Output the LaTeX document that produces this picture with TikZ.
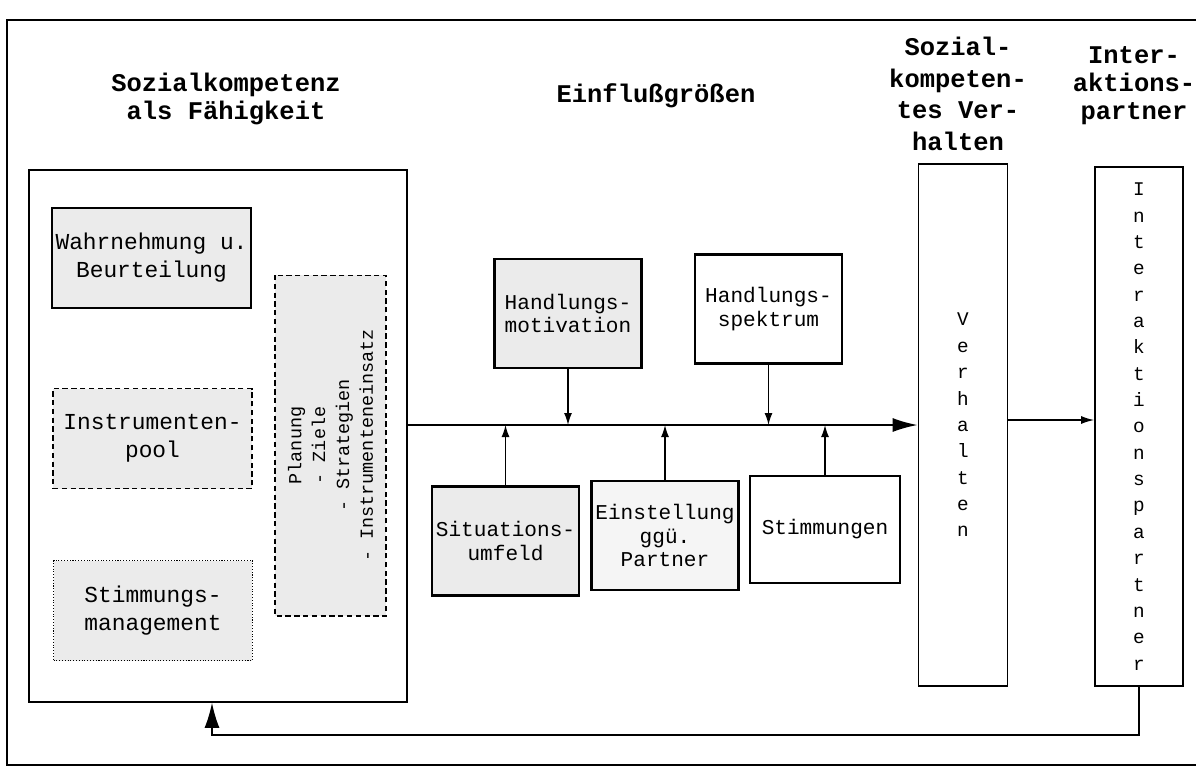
\documentclass[tikz,border=0pt]{standalone}
\usepackage{fontspec}
\setmonofont{Liberation Mono}
\usepackage{tikz}
\usetikzlibrary{arrows.meta}
\tikzstyle{headnode}=[black, align=center, inner sep=0pt, font=\ttfamily\bfseries\fontsize{14.5}{16}\selectfont]
\tikzstyle{abilnode}=[black, draw=black, line width=0.6pt, shape=rectangle, fill=black!8, align=center, inner sep=0pt, minimum width=3.98cm, minimum height=2cm, font=\ttfamily\fontsize{13}{16}\selectfont]
\tikzstyle{factnode}=[black, draw=black, line width=1.2pt, shape=rectangle, fill=white, align=center, inner sep=0pt, minimum width=2.94cm, minimum height=2.18cm, font=\ttfamily\fontsize{12}{13.5}\selectfont]
\tikzstyle{barnode}=[black, draw=black, line width=1pt, shape=rectangle, fill=white, align=center, inner sep=0pt, minimum width=1.78cm, minimum height=10.4cm, font=\ttfamily\fontsize{11}{15}\selectfont]

\begin{document}
\begin{tikzpicture}[x=0.02cm, y=-0.02cm]
\useasboundingbox (0,0) rectangle (1196,782);
\draw[line width=0.9pt] (1196,20) -- (7,20) -- (7,765) -- (1196,765);

\node [headnode] (ability) at (226,99) {Sozialkompetenz\\als Fähigkeit};
\node [headnode] (factors) at (656,96) {Einflußgrößen};
\node [headnode, font=\ttfamily\bfseries\fontsize{14.5}{18}\selectfont] (behaviour) at (958,94) {Sozial-\\kompeten-\\tes Ver-\\halten};
\node [headnode] (partnerhead) at (1134,86) {Inter-\\aktions-\\partner};

\node [shape=rectangle, draw=black, line width=1pt, minimum width=7.56cm, minimum height=10.64cm] (kompetenz) at (218,436) {};
\node [abilnode] (wahrnehmung) at (151.5,258) {Wahrnehmung u.\\Beurteilung};
\node [abilnode, densely dashed] (instrumente) at (152.5,438.5) {Instrumenten-\\pool};
\node [abilnode, densely dotted] (stimmungsmgmt) at (153,610.5) {Stimmungs-\\management};
\node [abilnode, densely dashed, rotate=90, minimum width=6.82cm, minimum height=2.22cm, font=\ttfamily\fontsize{10.5}{13.6}\selectfont] (planung) at (330.5,445.5) {Planung\\- Ziele\\- Strategien\\- Instrumenteneinsatz};

\node [factnode, fill=black!8] (motivation) at (568,313.5) {Handlungs-\\motivation};
\node [factnode] (spektrum) at (768.5,309) {Handlungs-\\spektrum};
\node [factnode, fill=black!8] (situation) at (505.5,541) {Situations-\\umfeld};
\node [factnode, fill=black!4] (einstellung) at (665,535.5) {Einstellung\\ggü.\\Partner};
\node [factnode, minimum width=3cm, minimum height=2.14cm] (stimmungen) at (825,529.5) {Stimmungen};

\node [barnode, minimum height=10.44cm] (verhalten) at (963,425) {V\\e\\r\\h\\a\\l\\t\\e\\n};
\node [barnode, minimum width=1.76cm, minimum height=10.38cm] (partner) at (1139,426.5) {I\\n\\t\\e\\r\\a\\k\\t\\i\\o\\n\\s\\p\\a\\r\\t\\n\\e\\r};

\coordinate (flow) at (kompetenz.east |- 0,425);
\coordinate (back) at (212,735);

\draw[-{Latex[length=0.5cm, width=0.28cm]}, line width=1pt, color=black] (flow) -- (verhalten.west |- flow);
\draw[-{Latex[length=0.24cm, width=0.16cm]}, line width=0.8pt, color=black] (motivation.south) -- (motivation.south |- flow);
\draw[-{Latex[length=0.24cm, width=0.16cm]}, line width=0.8pt, color=black] (spektrum.south) -- (spektrum.south |- flow);
\draw[-{Latex[length=0.24cm, width=0.16cm]}, line width=0.8pt, color=black] (situation.north) -- (situation.north |- flow);
\draw[-{Latex[length=0.24cm, width=0.16cm]}, line width=0.8pt, color=black] (einstellung.north) -- (einstellung.north |- flow);
\draw[-{Latex[length=0.24cm, width=0.16cm]}, line width=0.8pt, color=black] (stimmungen.north) -- (stimmungen.north |- flow);
\draw[-{Latex[length=0.26cm, width=0.16cm]}, line width=0.8pt, color=black] (verhalten.east |- 0,420) -- (partner.west |- 0,420);
\draw[-{Latex[length=0.5cm, width=0.3cm]}, line width=0.8pt, color=black] (partner.south) |- (back) -- (kompetenz.south -| back);
\end{tikzpicture}
\end{document}
